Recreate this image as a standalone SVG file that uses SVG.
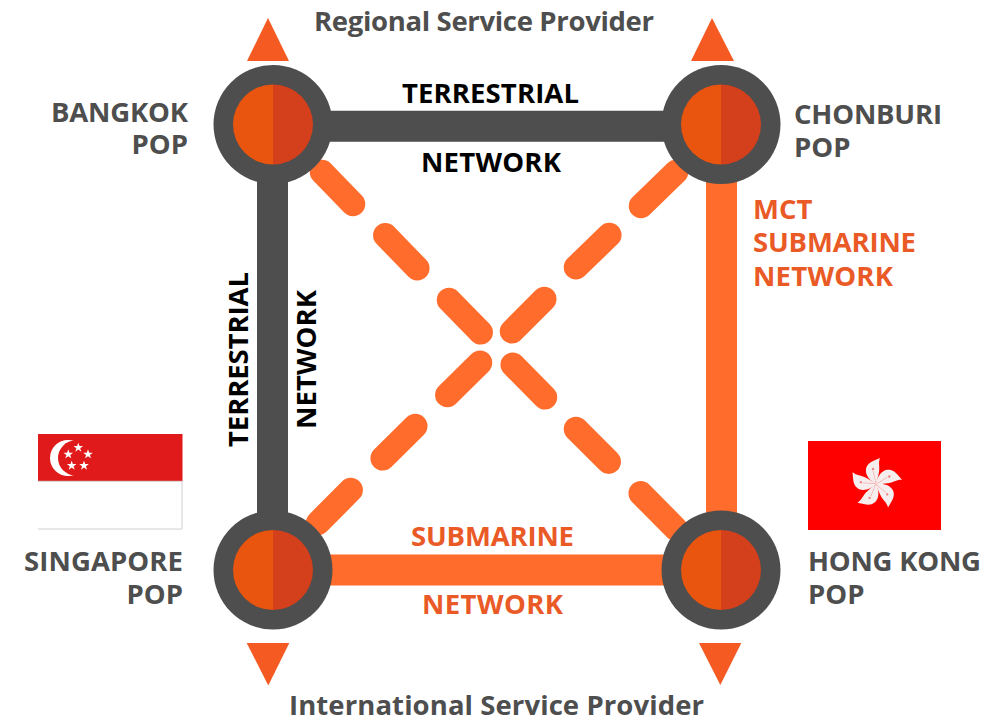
<svg xmlns="http://www.w3.org/2000/svg" width="1007" height="719" viewBox="0 0 1007 719">
<defs>
<style>
text{font-family:"Open Sans","Noto Sans","Liberation Sans",sans-serif;font-weight:700}
.g{fill:#4d4e4d;font-size:27.500px}.k{fill:#000;font-size:27.500px}.o{fill:#ea5a26;font-size:27.500px}
.ring{fill:#4d4e4d}.l{fill:#e9540f}.r{fill:#d43f1c}
.tri{fill:#f55a22}
.dark{stroke:#4d4e4d;stroke-width:31;fill:none}
.org{stroke:#ff6c2c;stroke-width:31;fill:none}
.dash{stroke:#ff6c2c;stroke-width:24.500;stroke-linecap:round;fill:none}
</style>
<g id="pop"><circle r="59.500" class="ring"/><path class="l" d="M0-40A40 40 0 0 0 0 40Z"/><path class="r" d="M0-40A40 40 0 0 1 0 40Z"/></g>
<path id="star" d="M0-5L1.200-1.600 4.800-1.600 1.900.6 3 4 0 1.900-3 4-1.900.6-4.800-1.600-1.200-1.600Z" fill="#fff"/>
<g id="petal"><path fill="#f6eeee" d="M0 0C-6-3-11-9-10-15C-9-20-5-22-3-23L4-26C2-21 4-17 3-12C2-7 1-3 0 0Z"/><circle cx="-3" cy="-15" r="1.200" fill="#f08080"/><path d="M0-1L-3-13" stroke="#f5a0a0" stroke-width=".6" fill="none"/></g>
</defs>
<rect width="1007" height="719" fill="#fff"/>
<g id="connectors">
<path class="dash" d="M322 172L353 204M385.300 235.300L417.300 268.300M449 300L480.700 332.300M512.700 364.700L545 397.300M576 429L608.700 461.700M640.700 493.300L676 529"/>
<path class="dash" d="M676 172L641 206M609.300 235L576 267.300M544.300 299L512 331.300M480 362.700L447.300 395M415.300 426L382.700 458.300M350.700 490L318 523"/>
<path class="dark" d="M273 126.300H721M272.500 124V569"/>
<path class="org" d="M721.500 124V569M273 570H721"/>
<path class="tri" d="M268 18L289 61H247Z"/>
<path class="tri" d="M712 18L734 61H691Z"/>
<path class="tri" d="M268.300 685.500L289.300 643H246.700Z"/>
<path class="tri" d="M720.300 685L741.300 643H699Z"/>
</g>
<g id="bangkok"><use href="#pop" x="273" y="124.500"/><text class="g" text-anchor="end" x="188" y="122" textLength="137">BANGKOK</text><text class="g" text-anchor="end" x="188" y="154">POP</text></g>
<g id="chonburi"><use href="#pop" x="721" y="124.500"/><text class="g" x="794" y="124" textLength="148">CHONBURI</text><text class="g" x="794" y="157">POP</text></g>
<g id="singapore"><use href="#pop" x="273" y="570"/><text class="g" text-anchor="end" x="183" y="571" textLength="159">SINGAPORE</text><text class="g" text-anchor="end" x="183" y="604">POP</text>
<rect x="38" y="434" width="144.500" height="47.300" fill="#e01a1a"/><path d="M38 481.300H182V529H38" fill="#fff" stroke="#d0d0d0"/>
<circle cx="68" cy="458" r="18" fill="#fff"/><circle cx="75.500" cy="458" r="17.500" fill="#e01a1a"/>
<use href="#star" x="78.300" y="447.700"/><use href="#star" x="68.300" y="454.300"/><use href="#star" x="88" y="454.300"/><use href="#star" x="71.700" y="465.700"/><use href="#star" x="84" y="465.700"/></g>
<g id="hongkong"><use href="#pop" x="721" y="570"/><text class="g" x="808" y="571" textLength="173">HONG KONG</text><text class="g" x="808" y="604">POP</text>
<rect x="808" y="441" width="133" height="89" fill="#f00"/>
<g transform="translate(876 484)"><use href="#petal"/><use href="#petal" transform="rotate(72)"/><use href="#petal" transform="rotate(144)"/><use href="#petal" transform="rotate(216)"/><use href="#petal" transform="rotate(288)"/></g></g>
<g id="labels">
<text class="g" text-anchor="middle" x="484" y="31" textLength="340">Regional Service Provider</text>
<text class="g" text-anchor="middle" x="496.500" y="715" textLength="415">International Service Provider</text>
<text class="k" text-anchor="middle" x="490.500" y="103" textLength="177">TERRESTRIAL</text>
<text class="k" text-anchor="middle" x="491" y="172" textLength="140">NETWORK</text>
<text class="k" text-anchor="middle" transform="translate(248 359.500) rotate(-90)" textLength="175">TERRESTRIAL</text>
<text class="k" text-anchor="middle" transform="translate(316 359.500) rotate(-90)" textLength="139">NETWORK</text>
<text class="o" x="753" y="219">MCT</text>
<text class="o" x="753" y="252" textLength="163">SUBMARINE</text>
<text class="o" x="753" y="286" textLength="140">NETWORK</text>
<text class="o" text-anchor="middle" x="492.500" y="546" textLength="163">SUBMARINE</text>
<text class="o" text-anchor="middle" x="492.500" y="614" textLength="141">NETWORK</text>
</g>
</svg>
